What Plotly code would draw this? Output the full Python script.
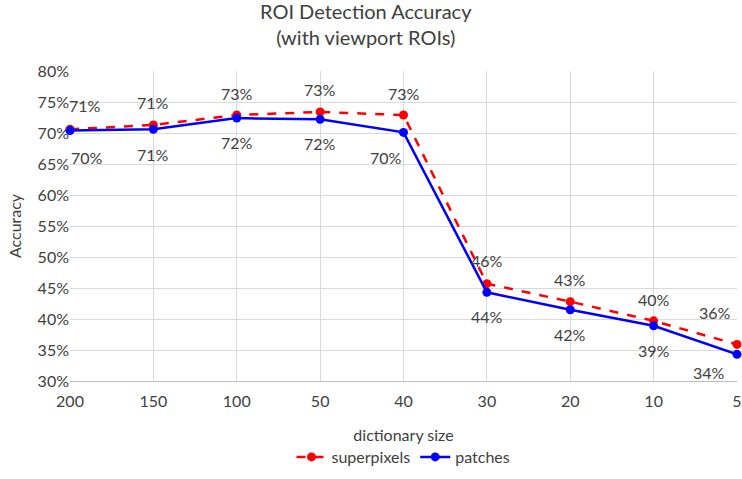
import plotly.graph_objects as go

categories = ["200", "150", "100", "50", "40", "30", "20", "10", "5"]
superpixels = [70.6, 71.3, 72.9, 73.4, 72.9, 45.7, 42.8, 39.7, 35.9]
patches = [70.4, 70.6, 72.4, 72.2, 70.1, 44.3, 41.5, 38.9, 34.3]
y_ticks = [30, 35, 40, 45, 50, 55, 60, 65, 70, 75, 80]

# label offsets (px) per point: (xshift, yshift)
sp_off = [(15, 24), (0, 22), (0, 22), (0, 22), (0, 22), (0, 23), (0, 22), (0, 21), (-22, 32)]
pa_off = [(17, -27), (0, -25), (0, -24), (0, -24), (-18, -25), (0, -24), (0, -25), (0, -25), (-28, -18)]

FONT = "Lato"
TXT = "#404040"
fig = go.Figure()
fig.add_trace(go.Scatter(
    x=categories, y=superpixels, name="superpixels", mode="lines+markers",
    line=dict(color="#ff0000", width=2.5, dash="dash"),
    marker=dict(color="#ff0000", size=9), cliponaxis=False))
fig.add_trace(go.Scatter(
    x=categories, y=patches, name="patches", mode="lines+markers",
    line=dict(color="#0000ff", width=2.5),
    marker=dict(color="#0000ff", size=9), cliponaxis=False))

for i, (v, (dx, dy)) in enumerate(zip(superpixels, sp_off)):
    fig.add_annotation(x=i, y=v, text=f"{round(v):d}%", showarrow=False,
                       xshift=dx, yshift=dy, font=dict(size=16, color=TXT, family=FONT))
for i, (v, (dx, dy)) in enumerate(zip(patches, pa_off)):
    fig.add_annotation(x=i, y=v, text=f"{round(v):d}%", showarrow=False,
                       xshift=dx, yshift=dy, font=dict(size=16, color=TXT, family=FONT))

fig.add_annotation(xref="paper", yref="paper", x=0.444, y=1.152, xanchor="center", yanchor="middle",
                   text="ROI Detection Accuracy<br>(with viewport ROIs)", showarrow=False,
                   font=dict(size=20, color=TXT, family=FONT))

fig.update_layout(
    width=742, height=479,
    margin=dict(l=70, r=5, t=71, b=96),
    paper_bgcolor="white", plot_bgcolor="white",
    font=dict(family=FONT, size=16, color=TXT),
    xaxis=dict(type="category", range=[0, 8], showgrid=True, gridcolor="#d9d9d9",
               showline=True, linecolor="#bfbfbf", ticks="", zeroline=False, automargin=False,
               ticklabelstandoff=6,
               title=dict(text="dictionary size", standoff=20, font=dict(size=16))),
    yaxis=dict(range=[30, 80], tickvals=y_ticks, ticktext=[f"{t}%" for t in y_ticks],
               showgrid=True, gridcolor="#d9d9d9", zeroline=False, ticks="", automargin=False,
               title=dict(text="Accuracy", standoff=12, font=dict(size=16))),
    legend=dict(orientation="h", x=0.5, xanchor="center", y=-0.30, yanchor="bottom",
                font=dict(size=16)),
    showlegend=True,
)
fig.write_html("out.html", post_script="document.body.style.margin='0';",
               config={"displayModeBar": False})
